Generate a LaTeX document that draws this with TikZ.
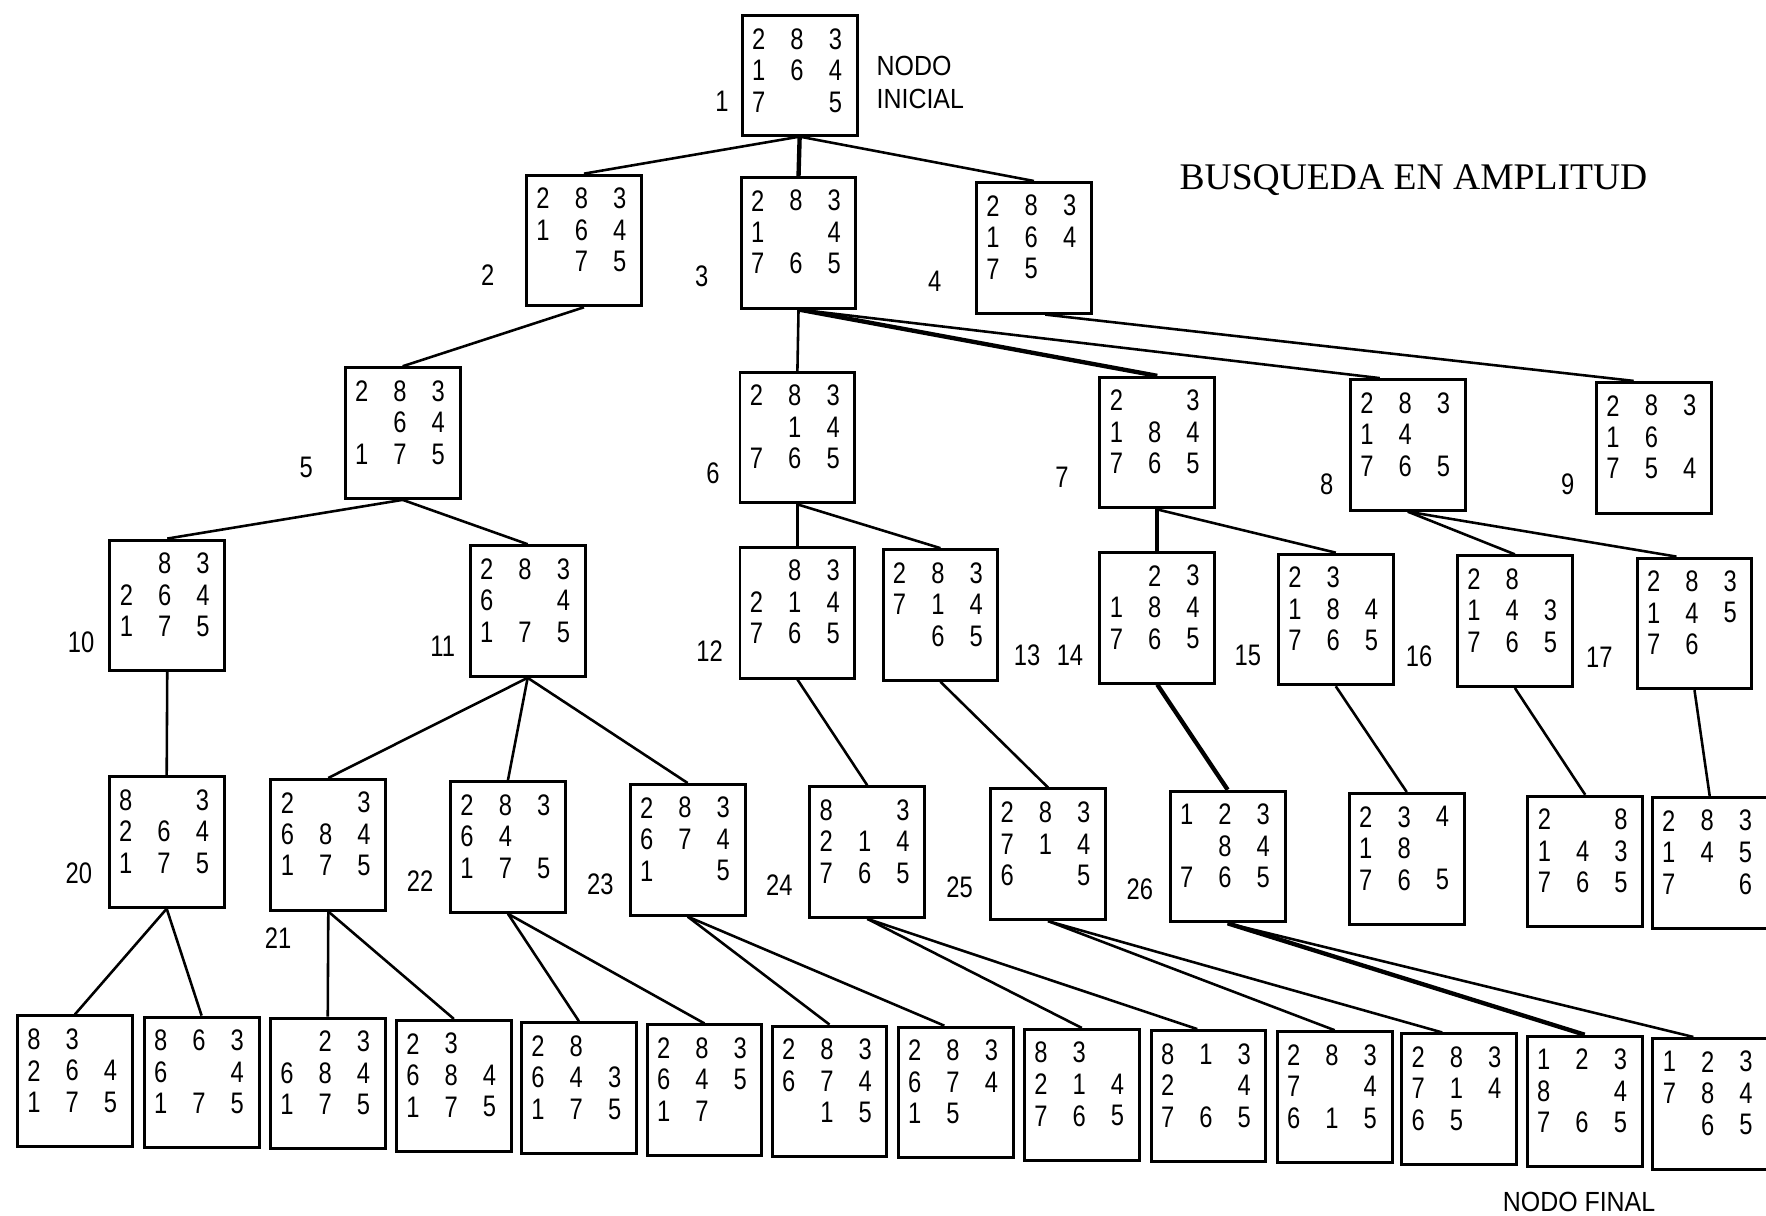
\documentclass[tikz,border=0pt]{standalone}
\usepackage{fontspec}
\usetikzlibrary{calc}
\newfontfamily\tilefont[FakeStretch=0.8]{Liberation Sans}
\newfontfamily\notefont[FakeStretch=0.9]{Liberation Sans}
\newfontfamily\titlefont{Liberation Serif}
\tikzset{
  board/.style={draw, line width=1.5pt, inner sep=0pt, minimum width=2.04cm, minimum height=2.32cm},
  tile/.style={inner sep=0pt, font=\tilefont\fontsize{15}{15}\selectfont},
  num/.style={inner sep=0pt, font=\tilefont\fontsize{15}{15}\selectfont},
  note/.style={inner sep=0pt, font=\notefont\fontsize{14}{16.5}\selectfont},
  edge/.style={line width=1.3pt},
  sol/.style={line width=2.2pt}
}
% places the nine tiles of a board, row by row
\newcommand{\tiles}[2]{%
  \foreach \pz [count=\k from 0] in {#2} {%
    \pgfmathtruncatemacro\col{mod(\k,3)}%
    \pgfmathtruncatemacro\row{div(\k,3)}%
    \node[tile] (#1-\k) at ($(#1.north west)+(16+34*\col,22+28*\row)$) {\pz};
  }%
}
\begin{document}
\begin{tikzpicture}[x=0.02cm,y=-0.02cm]
\clip (0,0) rectangle (1568,1079);
% level 0 and 1
\node[board, minimum height=2.12cm] (n1) at (710,67) {};
\node[board] (n2) at (518.5,213.5) {};
\node[board] (n3) at (709,215.5) {};
\node[board] (n4) at (918,220) {};
% level 2
\node[board] (n5) at (357.5,384.5) {};
\node[board] (n6) at (708,388.5) {};
\node[board] (n7) at (1027.5,393) {};
\node[board] (n8) at (1250,395) {};
\node[board] (n9) at (1468.5,397.5) {};
% level 3
\node[board] (n10) at (148.5,537.5) {};
\node[board] (n11) at (468.5,542.5) {};
\node[board] (n12) at (708,544) {};
\node[board] (n13) at (835,546) {};
\node[board] (n14) at (1027.5,548.5) {};
\node[board] (n15) at (1186,550) {};
\node[board] (n16) at (1345,551.5) {};
\node[board] (n17) at (1504.5,553.5) {};
% level 4
\node[board] (n20) at (148,747.5) {};
\node[board] (n21) at (291.5,750) {};
\node[board] (n22) at (451,752) {};
\node[board] (n23) at (610.5,754.5) {};
\node[board] (n24) at (770,756.5) {};
\node[board] (n25) at (930.5,758.5) {};
\node[board] (n26) at (1090,760.5) {};
\node[board] (n27) at (1249,762.5) {};
\node[board] (n28) at (1407.5,765) {};
\node[board] (n29) at (1518,766) {};
% level 5
\node[board] (h1) at (66.5,960) {};
\node[board] (h2) at (179,961) {};
\node[board] (h3) at (291,962) {};
\node[board] (h4) at (403,964) {};
\node[board] (h5) at (514,966) {};
\node[board] (h6) at (625.5,968) {};
\node[board] (h7) at (736.5,969) {};
\node[board] (h8) at (848.5,970) {};
\node[board] (h9) at (960.5,972) {};
\node[board] (h10) at (1073,973) {};
\node[board] (h11) at (1185,974) {};
\node[board] (h12) at (1295.5,976) {};
\node[board] (h13) at (1407,978) {};
\node[board] (h14) at (1518.5,980) {};
% tiles
\tiles{n1}{2,8,3,1,6,4,7,,5}
\tiles{n2}{2,8,3,1,6,4,,7,5}
\tiles{n3}{2,8,3,1,,4,7,6,5}
\tiles{n4}{2,8,3,1,6,4,7,5,}
\tiles{n5}{2,8,3,,6,4,1,7,5}
\tiles{n6}{2,8,3,,1,4,7,6,5}
\tiles{n7}{2,,3,1,8,4,7,6,5}
\tiles{n8}{2,8,3,1,4,,7,6,5}
\tiles{n9}{2,8,3,1,6,,7,5,4}
\tiles{n10}{,8,3,2,6,4,1,7,5}
\tiles{n11}{2,8,3,6,,4,1,7,5}
\tiles{n12}{,8,3,2,1,4,7,6,5}
\tiles{n13}{2,8,3,7,1,4,,6,5}
\tiles{n14}{,2,3,1,8,4,7,6,5}
\tiles{n15}{2,3,,1,8,4,7,6,5}
\tiles{n16}{2,8,,1,4,3,7,6,5}
\tiles{n17}{2,8,3,1,4,5,7,6,}
\tiles{n20}{8,,3,2,6,4,1,7,5}
\tiles{n21}{2,,3,6,8,4,1,7,5}
\tiles{n22}{2,8,3,6,4,,1,7,5}
\tiles{n23}{2,8,3,6,7,4,1,,5}
\tiles{n24}{8,,3,2,1,4,7,6,5}
\tiles{n25}{2,8,3,7,1,4,6,,5}
\tiles{n26}{1,2,3,,8,4,7,6,5}
\tiles{n27}{2,3,4,1,8,,7,6,5}
\tiles{n28}{2,,8,1,4,3,7,6,5}
\tiles{n29}{2,8,3,1,4,5,7,,6}
\tiles{h1}{8,3,,2,6,4,1,7,5}
\tiles{h2}{8,6,3,6,,4,1,7,5}
\tiles{h3}{,2,3,6,8,4,1,7,5}
\tiles{h4}{2,3,,6,8,4,1,7,5}
\tiles{h5}{2,8,,6,4,3,1,7,5}
\tiles{h6}{2,8,3,6,4,5,1,7,}
\tiles{h7}{2,8,3,6,7,4,,1,5}
\tiles{h8}{2,8,3,6,7,4,1,5,}
\tiles{h9}{8,3,,2,1,4,7,6,5}
\tiles{h10}{8,1,3,2,,4,7,6,5}
\tiles{h11}{2,8,3,7,,4,6,1,5}
\tiles{h12}{2,8,3,7,1,4,6,5,}
\tiles{h13}{1,2,3,8,,4,7,6,5}
\tiles{h14}{1,2,3,7,8,4,,6,5}
% edges
\foreach \p/\c in {n1/n2, n1/n4, n2/n5, n3/n6, n5/n10, n5/n11, n6/n12, n6/n13,
  n7/n15, n8/n16, n10/n20, n11/n21, n11/n22, n11/n23, n12/n24, n13/n25,
  n15/n27, n16/n28, n17/n29, n20/h1, n20/h2, n21/h3, n21/h4, n22/h5,
  n22/h6, n23/h7, n24/h9, n25/h11}
  \draw[edge] (\p.south) -- (\c.north);
\draw[edge] (n3.south) -- ([xshift=-0.5cm]n8.north);
\draw[edge] ([xshift=0.2cm]n4.south) -- ([xshift=-0.36cm]n9.north);
\draw[edge] (n8.south) -- ([xshift=-0.32cm]n17.north);
\draw[edge] (n23.south) -- ([xshift=-0.2cm]h8.north);
\draw[edge] (n24.south) -- ([xshift=-0.2cm]h10.north);
\draw[edge] (n25.south) -- ([xshift=-0.3cm]h12.north);
\draw[edge] (n26.south) -- ([xshift=-0.3cm]h14.north);
% path to the goal
\foreach \p/\c in {n1/n3, n3/n7, n7/n14, n14/n26, n26/h13}
  \draw[sol] (\p.south) -- (\c.north);
% numbers
\node[num] (l1) at (641,90) {1};
\node[num] (l2) at (433,244) {2};
\node[num] (l3) at (623,245) {3};
\node[num] (l4) at (830,250) {4};
\node[num] (l5) at (272,415) {5};
\node[num] (l6) at (633,420) {6};
\node[num] (l7) at (943,424) {7};
\node[num] (l8) at (1178,430) {8};
\node[num] (l9) at (1392,430) {9};
\node[num] (l10) at (72,570) {10};
\node[num] (l11) at (393,574) {11};
\node[num] (l12) at (630,578) {12};
\node[num] (l13) at (912,582) {13};
\node[num] (l14) at (950,582) {14};
\node[num] (l15) at (1108,582) {15};
\node[num] (l16) at (1260,583) {16};
\node[num] (l17) at (1420,584) {17};
\node[num] (l20) at (70,775) {20};
\node[num] (l21) at (247,833) {21};
\node[num] (l22) at (373,782) {22};
\node[num] (l23) at (533,785) {23};
\node[num] (l24) at (692,786) {24};
\node[num] (l25) at (852,788) {25};
\node[num] (l26) at (1012,790) {26};
% captions
\node[note, anchor=west, align=left] (ini) at (778,73) {NODO\\INICIAL};
\node[note] (fin) at (1402,1067) {NODO FINAL};
\node[inner sep=0pt, font=\titlefont\fontsize{19}{19}\selectfont] (title) at (1255,160) {BUSQUEDA EN AMPLITUD};
\end{tikzpicture}
\end{document}
